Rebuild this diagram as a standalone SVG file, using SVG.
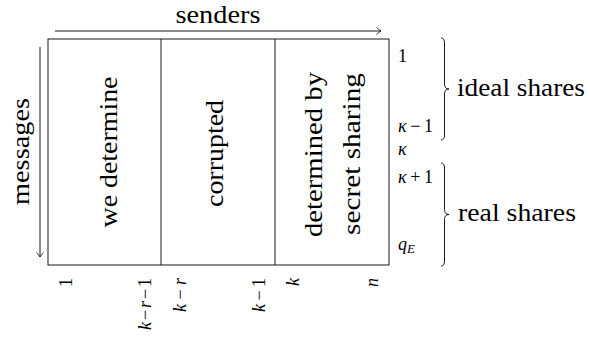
<svg xmlns="http://www.w3.org/2000/svg" width="590" height="340" viewBox="0 0 590 340" font-family="'Liberation Serif', 'Times New Roman', serif">
<style>
text{font-family:'Liberation Serif','Times New Roman',serif;fill:#000}
.big{font-size:26px}
.sm{font-size:18px}
.it{font-style:italic}
.ln{fill:none;stroke:#000;stroke-width:0.9}
</style>
<defs>
<marker id="tip" markerWidth="10" markerHeight="10" refX="0" refY="0" viewBox="-6 -5 8 10" orient="auto" markerUnits="userSpaceOnUse">
<path d="M-4.5,-3.5 Q-1.5,-0.8 0,0 Q-1.5,0.8 -4.5,3.5" fill="none" stroke="#000" stroke-width="0.8"/>
</marker>
</defs>
<rect width="590" height="340" fill="#fff"/>
<g id="box">
<rect class="ln" x="48" y="39" width="341" height="226"/>
</g>
<g id="col1">
<text class="big" text-anchor="middle" textLength="151" lengthAdjust="spacingAndGlyphs" transform="translate(117,152) rotate(-90)">we determine</text>
</g>
<g id="col2">
<line class="ln" x1="161" y1="39" x2="161" y2="265"/>
<text class="big" text-anchor="middle" textLength="107" lengthAdjust="spacingAndGlyphs" transform="translate(223,153.5) rotate(-90)">corrupted</text>
</g>
<g id="col3">
<line class="ln" x1="275" y1="39" x2="275" y2="265"/>
<text class="big" text-anchor="middle" textLength="165" lengthAdjust="spacingAndGlyphs" transform="translate(322,154.5) rotate(-90)">determined by</text>
<text class="big" text-anchor="middle" textLength="162" lengthAdjust="spacingAndGlyphs" transform="translate(360,154) rotate(-90)">secret sharing</text>
</g>
<g id="connectors">
<line class="ln" x1="55" y1="31" x2="381" y2="31" marker-end="url(#tip)"/>
<line class="ln" x1="40" y1="47" x2="40" y2="257" marker-end="url(#tip)"/>
<path class="ln" d="M441,38 Q444.5,38 444.5,43 L444.5,84 Q444.5,89 449,89 Q444.5,89 444.5,94 L444.5,135 Q444.5,140 441,140"/>
<path class="ln" d="M441,163 Q444.5,163 444.5,168 L444.5,209.5 Q444.5,214.5 449,214.5 Q444.5,214.5 444.5,219.5 L444.5,261 Q444.5,266 441,266"/>
</g>
<g id="axis-labels">
<text class="big" x="218" y="23" text-anchor="middle" textLength="85" lengthAdjust="spacingAndGlyphs">senders</text>
<text class="big" text-anchor="middle" textLength="107" lengthAdjust="spacingAndGlyphs" transform="translate(28.5,151.5) rotate(-90)">messages</text>
<text class="big" x="457" y="96" textLength="128" lengthAdjust="spacingAndGlyphs">ideal shares</text>
<text class="big" x="458" y="221" textLength="118" lengthAdjust="spacingAndGlyphs">real shares</text>
</g>
<g id="row-labels">
<text class="sm" x="398" y="62">1</text>
<text class="sm" x="398" y="132" textLength="35"><tspan class="it">κ</tspan>−1</text>
<text class="sm it" x="398" y="155">κ</text>
<text class="sm" x="398" y="183" textLength="35"><tspan class="it">κ</tspan>+1</text>
<text class="sm it" x="398" y="250">q<tspan font-size="13" dy="3">E</tspan></text>
</g>
<g id="col-labels">
<text class="sm" text-anchor="end" transform="translate(72,278) rotate(-90)">1</text>
<text class="sm" text-anchor="end" textLength="52" transform="translate(150.5,278) rotate(-90)"><tspan class="it">k</tspan>−<tspan class="it">r</tspan>−1</text>
<text class="sm" text-anchor="end" textLength="34" transform="translate(186,278) rotate(-90)"><tspan class="it">k</tspan>−<tspan class="it">r</tspan></text>
<text class="sm" text-anchor="end" textLength="34" transform="translate(265,278) rotate(-90)"><tspan class="it">k</tspan>−1</text>
<text class="sm it" text-anchor="end" transform="translate(299,278) rotate(-90)">k</text>
<text class="sm it" text-anchor="end" transform="translate(378,278) rotate(-90)">n</text>
</g>
</svg>
